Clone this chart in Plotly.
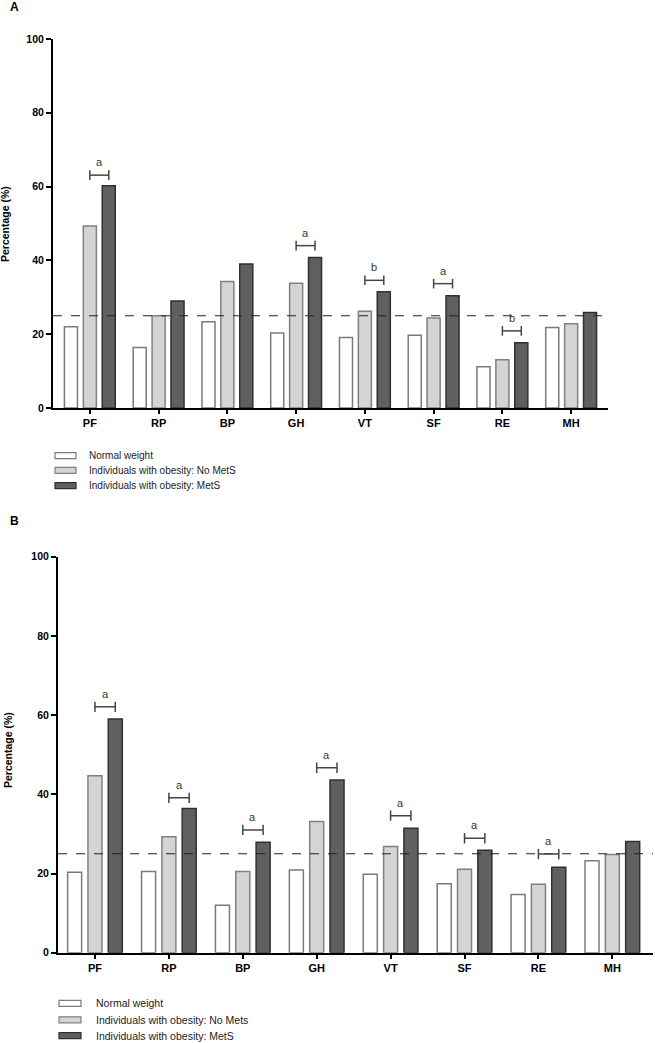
import plotly.graph_objects as go

# ---------------- data ----------------
categories = ["PF", "RP", "BP", "GH", "VT", "SF", "RE", "MH"]

series_A = ["Normal weight", "Individuals with obesity: No MetS", "Individuals with obesity: MetS"]
normal_A = [22.0, 16.4, 23.4, 20.3, 19.1, 19.7, 11.2, 21.8]
nomets_A = [49.3, 25.0, 34.3, 33.8, 26.2, 24.4, 13.1, 22.8]
mets_A = [60.2, 29.0, 39.0, 40.8, 31.5, 30.4, 17.7, 25.9]

series_B = ["Normal weight", "Individuals with obesity: No Mets", "Individuals with obesity: MetS"]
normal_B = [20.3, 20.5, 12.0, 20.9, 19.8, 17.4, 14.7, 23.2]
nomets_B = [44.7, 29.3, 20.5, 33.1, 26.8, 21.1, 17.3, 24.8]
mets_B = [59.0, 36.4, 27.9, 43.6, 31.4, 25.9, 21.6, 28.1]

reference_line = 25

sigA_cats = ["PF", "GH", "VT", "SF", "RE"]
sigA_heights = [63.1, 44.0, 34.6, 33.7, 20.9]
sigA_letters = ["a", "a", "b", "a", "b"]

sigB_cats = ["PF", "RP", "BP", "GH", "VT", "SF", "RE"]
sigB_heights = [62.1, 39.1, 31.0, 46.7, 34.6, 28.9, 24.9]
sigB_letters = ["a", "a", "a", "a", "a", "a", "a"]

y_ticks = [0, 20, 40, 60, 80, 100]

# ---------------- style ----------------
W, H = 655, 1043
fills = ["#ffffff", "#d4d4d4", "#606060"]
edges = ["#7a7a7a", "#808080", "#303030"]
FONT = "Liberation Sans, Arial, sans-serif"
slot = 0.275  # distance between bar centres in a group

def px_x(p):
    return p / W

def px_y(p):
    return 1 - p / H

fig = go.Figure()

panels = [
    dict(xa="x", ya="y", vals=[normal_A, nomets_A, mets_A], names=series_A,
         sc=sigA_cats, sh=sigA_heights, sl=sigA_letters),
    dict(xa="x2", ya="y2", vals=[normal_B, nomets_B, mets_B], names=series_B,
         sc=sigB_cats, sh=sigB_heights, sl=sigB_letters),
]

shapes = []
annotations = []

for p in panels:
    for i, (vals, name) in enumerate(zip(p["vals"], p["names"])):
        fig.add_trace(go.Bar(
            x=categories, y=vals, name=name, xaxis=p["xa"], yaxis=p["ya"],
            marker=dict(color=fills[i], line=dict(color=edges[i], width=1.5)),
            showlegend=False, hoverinfo="x+y+name",
        ))
    # reference dashed line
    shapes.append(dict(type="line", xref=p["xa"] + " domain", yref=p["ya"],
                       x0=0, x1=1, y0=reference_line, y1=reference_line,
                       line=dict(color="#222222", width=1.1, dash="dash"), layer="above"))
    # significance brackets
    for c, h, lt in zip(p["sc"], p["sh"], p["sl"]):
        idx = categories.index(c)
        x0, x1 = idx, idx + slot
        lc = dict(color="#444444", width=1.5)
        shapes.append(dict(type="line", xref=p["xa"], yref=p["ya"], x0=x0, x1=x1, y0=h, y1=h, line=lc))
        shapes.append(dict(type="line", xref=p["xa"], yref=p["ya"], x0=x0, x1=x0, y0=h - 1.3, y1=h + 1.3, line=lc))
        shapes.append(dict(type="line", xref=p["xa"], yref=p["ya"], x0=x1, x1=x1, y0=h - 1.3, y1=h + 1.3, line=lc))
        annotations.append(dict(x=idx + slot / 2, y=h, xref=p["xa"], yref=p["ya"], text=lt,
                                showarrow=False, yanchor="bottom", yshift=5,
                                font=dict(family=FONT, size=11, color="#333333")))

# ---------------- manual legends ----------------
legends = [
    dict(names=series_A, sx0=55, sx1=76, tx=87, ys=[455.7, 470.3, 485.7], size=10),
    dict(names=series_B, sx0=59, sx1=81, tx=94, ys=[1003.3, 1019.8, 1035.7], size=10.5),
]
for lg in legends:
    for i, (name, yc) in enumerate(zip(lg["names"], lg["ys"])):
        shapes.append(dict(type="rect", xref="paper", yref="paper",
                           x0=px_x(lg["sx0"]), x1=px_x(lg["sx1"]),
                           y0=px_y(yc + 3), y1=px_y(yc - 3),
                           fillcolor=fills[i], line=dict(color=edges[i], width=1.2)))
        annotations.append(dict(x=px_x(lg["tx"]), y=px_y(yc), xref="paper", yref="paper",
                                text=name, showarrow=False, xanchor="left", yanchor="middle",
                                font=dict(family=FONT, size=lg["size"], color="#222222")))

# panel letters and y titles
annotations.append(dict(x=px_x(8), y=px_y(7), xref="paper", yref="paper", text="<b>A</b>",
                        showarrow=False, xanchor="left", yanchor="middle",
                        font=dict(family=FONT, size=12, color="black")))
annotations.append(dict(x=px_x(8), y=px_y(521), xref="paper", yref="paper", text="<b>B</b>",
                        showarrow=False, xanchor="left", yanchor="middle",
                        font=dict(family=FONT, size=12, color="black")))
annotations.append(dict(x=px_x(5), y=px_y(224), xref="paper", yref="paper", text="<b>Percentage (%)</b>",
                        showarrow=False, textangle=-90, xanchor="center", yanchor="middle",
                        font=dict(family=FONT, size=10.5, color="black")))
annotations.append(dict(x=px_x(8), y=px_y(750), xref="paper", yref="paper", text="<b>Percentage (%)</b>",
                        showarrow=False, textangle=-90, xanchor="center", yanchor="middle",
                        font=dict(family=FONT, size=10.5, color="black")))

tickfont = dict(family=FONT, size=11, color="black", weight="bold")
yfont = dict(family=FONT, size=10.5, color="black", weight="bold")

common_x = dict(type="category", showline=True, linecolor="black", linewidth=2,
                ticks="outside", ticklen=4, tickwidth=1.5, tickcolor="black",
                showgrid=False, zeroline=False, tickfont=tickfont, automargin=False)
common_y = dict(showline=True, linecolor="black", linewidth=2, range=[0, 100],
                tickvals=y_ticks, ticks="outside", ticklen=5, tickwidth=1.5, tickcolor="black",
                showgrid=False, zeroline=False, tickfont=yfont, automargin=False)

fig.update_layout(
    width=W, height=H,
    margin=dict(l=0, r=0, t=0, b=0, autoexpand=False),
    paper_bgcolor="white", plot_bgcolor="white",
    barmode="group", bargap=0.175, bargroupgap=0.31,
    showlegend=False,
    xaxis=dict(common_x, domain=[px_x(53), px_x(608)], range=[-0.536, 7.536], anchor="y"),
    yaxis=dict(common_y, domain=[px_y(408), px_y(39)], anchor="x"),
    xaxis2=dict(common_x, domain=[px_x(58), px_x(653)], range=[-0.5, 7.55], anchor="y2"),
    yaxis2=dict(common_y, domain=[px_y(952.7), px_y(556.7)], anchor="x2"),
    shapes=shapes,
    annotations=annotations,
)

fig.write_html("out.html", config={"displayModeBar": False},
               post_script="document.body.style.margin='0';document.body.style.overflow='hidden';")
